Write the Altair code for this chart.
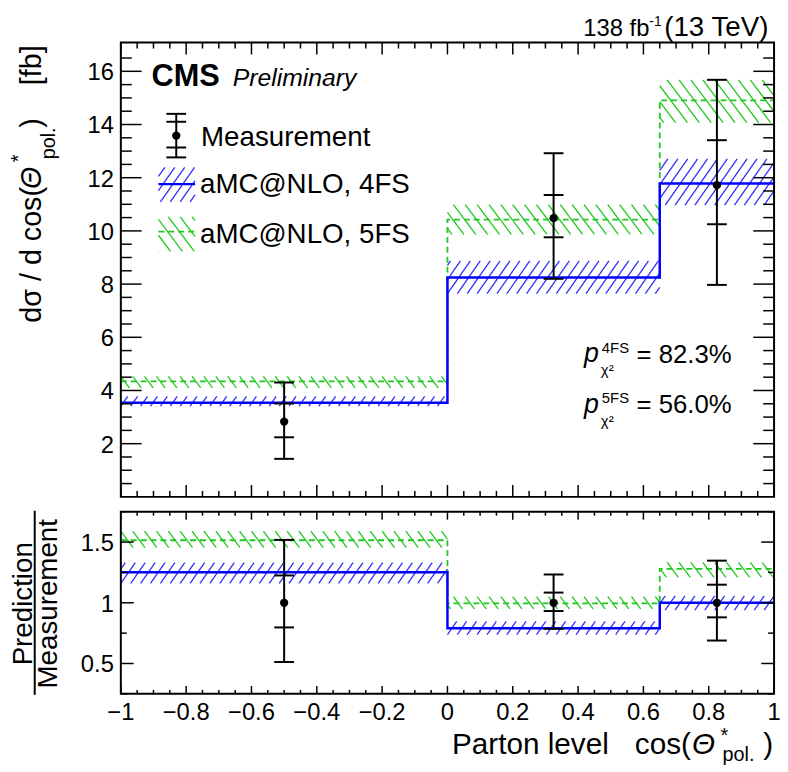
import altair as alt
import pandas as pd
import numpy as np

# ---------------- data ----------------
bin_edges = [-1.0, 0.0, 0.65, 1.0]
bin_centers = [-0.5, 0.325, 0.825]

meas = [2.83, 10.48, 11.72]
meas_tot_lo = [1.43, 8.20, 7.97]
meas_tot_hi = [4.30, 12.92, 15.68]
meas_stat_lo = [2.24, 9.76, 10.25]
meas_stat_hi = [3.51, 11.35, 13.41]

fs4 = [3.54, 8.25, 11.78]
fs4_lo = [3.41, 7.64, 10.97]
fs4_hi = [3.78, 8.87, 12.71]
fs5 = [4.34, 10.42, 14.91]
fs5_lo = [4.10, 9.87, 14.07]
fs5_hi = [4.53, 10.99, 15.68]

ratio_meas = [1.0, 1.0, 1.0]
ratio_tot_lo = [0.512, 0.786, 0.689]
ratio_tot_hi = [1.518, 1.233, 1.347]
ratio_stat_lo = [0.797, 0.932, 0.880]
ratio_stat_hi = [1.225, 1.084, 1.149]
ratio4 = [1.252, 0.790, 1.000]
ratio4_lo = [1.160, 0.737, 0.940]
ratio4_hi = [1.330, 0.846, 1.057]
ratio5 = [1.515, 0.995, 1.279]
ratio5_lo = [1.455, 0.950, 1.210]
ratio5_hi = [1.590, 1.050, 1.333]

x_major_ticks = [-1.0, -0.8, -0.6, -0.4, -0.2, 0.0, 0.2, 0.4, 0.6, 0.8, 1.0]
x_tick_labels = ["\u22121", "\u22120.8", "\u22120.6", "\u22120.4", "\u22120.2", "0",
                 "0.2", "0.4", "0.6", "0.8", "1"]
y_top_major = [2, 4, 6, 8, 10, 12, 14, 16]
y_top_labels = ["2", "4", "6", "8", "10", "12", "14", "16"]
y_bot_major = [0.5, 1.0, 1.5]
y_bot_labels = ["0.5", "1", "1.5"]

# ---------------- layout ----------------
W, H = 660, 658
TOP_H = 459
BOT_Y0, BOT_Y1 = 474, 658
TOP_DOM = [0.0, 17.08]
BOT_DOM = [0.25, 1.75]
FONT = "Liberation Sans"
BLUE = "#0000ff"
HBLUE = "#2f2fff"
GREEN = "#1ec81e"

xs = alt.Scale(domain=[-1, 1], range=[0, W], nice=False, zero=False)
ysT = alt.Scale(domain=TOP_DOM, range=[TOP_H, 0], nice=False, zero=False)
ysB = alt.Scale(domain=BOT_DOM, range=[BOT_Y1, BOT_Y0], nice=False, zero=False)


def px_x(v):
    return (v + 1) / 2 * W


def inv_x(p):
    return p / W * 2 - 1


def px_y(v, panel):
    if panel == "top":
        return TOP_H - (v - TOP_DOM[0]) / (TOP_DOM[1] - TOP_DOM[0]) * TOP_H
    return BOT_Y1 - (v - BOT_DOM[0]) / (BOT_DOM[1] - BOT_DOM[0]) * (BOT_Y1 - BOT_Y0)


def inv_y(p, panel):
    if panel == "top":
        return TOP_DOM[0] + (TOP_H - p) / TOP_H * (TOP_DOM[1] - TOP_DOM[0])
    return BOT_DOM[0] + (BOT_Y1 - p) / (BOT_Y1 - BOT_Y0) * (BOT_DOM[1] - BOT_DOM[0])


def hatch_px(X0, X1, Ytop, Ybot, spacing, k, direction):
    h = Ybot - Ytop
    segs = []
    n0 = int(np.floor((X0 - k * h) / spacing)) - 1
    n1 = int(np.ceil(X1 / spacing)) + 1
    for n in range(n0, n1 + 1):
        c = n * spacing
        t0 = max(0.0, (X0 - c) / (k * h))
        t1 = min(1.0, (X1 - c) / (k * h))
        if t1 - t0 <= 1e-6:
            continue
        xa, xb = c + k * h * t0, c + k * h * t1
        if direction == "/":
            ya, yb = Ybot - h * t0, Ybot - h * t1
        else:
            ya, yb = Ytop + h * t0, Ytop + h * t1
        segs.append((xa, ya, xb, yb))
    return segs


def band_hatch(los, his, panel, spacing, k, direction):
    rows = []
    for i in range(3):
        X0, X1 = px_x(bin_edges[i]), px_x(bin_edges[i + 1])
        Ytop, Ybot = px_y(his[i], panel), px_y(los[i], panel)
        for xa, ya, xb, yb in hatch_px(X0, X1, Ytop, Ybot, spacing, k, direction):
            rows.append({"x": inv_x(xa), "y": inv_y(ya, panel),
                         "x2": inv_x(xb), "y2": inv_y(yb, panel)})
    return pd.DataFrame(rows)


def hatch_layer(df, ys, color):
    return alt.Chart(df).mark_rule(color=color, strokeWidth=1.3).encode(
        x=alt.X("x:Q", scale=xs, axis=None), x2="x2:Q",
        y=alt.Y("y:Q", scale=ys, axis=None), y2="y2:Q")


def step_layer(vals, ys, color, width, dash=None):
    df = pd.DataFrame({"x": bin_edges, "v": list(vals) + [vals[-1]]})
    kw = dict(color=color, strokeWidth=width, interpolate="step-after")
    if dash:
        kw["strokeDash"] = dash
    return alt.Chart(df).mark_line(**kw).encode(
        x=alt.X("x:Q", scale=xs, axis=None),
        y=alt.Y("v:Q", scale=ys, axis=None))


def meas_layers(c, tlo, thi, slo, shi, ys):
    df = pd.DataFrame({"x": bin_centers, "c": c, "tlo": tlo, "thi": thi,
                       "slo": slo, "shi": shi})
    X = alt.X("x:Q", scale=xs, axis=None)
    out = [alt.Chart(df).mark_rule(color="black", strokeWidth=2).encode(
        x=X, y=alt.Y("tlo:Q", scale=ys, axis=None), y2="thi:Q")]
    for f in ["tlo", "thi", "slo", "shi"]:
        out.append(alt.Chart(df).mark_tick(orient="horizontal", size=20, thickness=2,
                                           color="black", opacity=1).encode(
            x=X, y=alt.Y(f + ":Q", scale=ys, axis=None)))
    out.append(alt.Chart(df).mark_circle(size=70, color="black", opacity=1).encode(
        x=X, y=alt.Y("c:Q", scale=ys, axis=None)))
    return out


one = pd.DataFrame({"a": [0]})


def text(t, x, y, size, align="left", baseline="alphabetic", style="normal",
         weight="normal", angle=0):
    return alt.Chart(one).mark_text(text=t, align=align, baseline=baseline,
                                    font=FONT, fontSize=size, fontStyle=style,
                                    fontWeight=weight, angle=angle,
                                    color="black").encode(
        x=alt.value(x), y=alt.value(y))


def px_rule(x, x2, y, y2, color="black", width=2, dash=None):
    kw = dict(color=color, strokeWidth=width)
    if dash:
        kw["strokeDash"] = dash
    return alt.Chart(one).mark_rule(**kw).encode(
        x=alt.value(x), x2=alt.value(x2), y=alt.value(y), y2=alt.value(y2))


layers = []

# ---- hatched bands ----
layers.append(hatch_layer(band_hatch(fs5_lo, fs5_hi, "top", 12, 0.75, "\\"), ysT, GREEN))
layers.append(hatch_layer(band_hatch(fs4_lo, fs4_hi, "top", 10, 0.7, "/"), ysT, HBLUE))
layers.append(hatch_layer(band_hatch(ratio5_lo, ratio5_hi, "bot", 12, 0.75, "\\"), ysB, GREEN))
layers.append(hatch_layer(band_hatch(ratio4_lo, ratio4_hi, "bot", 10, 0.7, "/"), ysB, HBLUE))

# ---- step lines ----
layers.append(step_layer(fs5, ysT, GREEN, 1.8, [6, 4]))
layers.append(step_layer(fs4, ysT, BLUE, 2.5))
layers.append(step_layer(ratio5, ysB, GREEN, 1.8, [6, 4]))
layers.append(step_layer(ratio4, ysB, BLUE, 2.5))

# ---- measurement ----
layers += meas_layers(meas, meas_tot_lo, meas_tot_hi, meas_stat_lo, meas_stat_hi, ysT)
layers += meas_layers(ratio_meas, ratio_tot_lo, ratio_tot_hi, ratio_stat_lo, ratio_stat_hi, ysB)

# ---- inward ticks ----
x_minor = [round(v, 2) for v in np.arange(-1, 1.0001, 0.05) if abs(v * 5 - round(v * 5)) > 1e-6]
yT_minor = [v for v in np.arange(0.5, 17.0, 0.5) if abs(v / 2 - round(v / 2)) > 1e-6]
yB_minor = [0.25, 0.75, 1.25, 1.75]


def xtick_layer(vals, y0, y1):
    return alt.Chart(pd.DataFrame({"v": vals})).mark_rule(color="black", strokeWidth=1.5).encode(
        x=alt.X("v:Q", scale=xs, axis=None), y=alt.value(y0), y2=alt.value(y1))


def ytick_layer(vals, ys, x0, x1):
    return alt.Chart(pd.DataFrame({"v": vals})).mark_rule(color="black", strokeWidth=1.5).encode(
        y=alt.Y("v:Q", scale=ys, axis=None), x=alt.value(x0), x2=alt.value(x1))


layers += [
    xtick_layer(x_major_ticks, TOP_H, TOP_H - 12), xtick_layer(x_minor, TOP_H, TOP_H - 6),
    xtick_layer(x_major_ticks, 0, 12), xtick_layer(x_minor, 0, 6),
    xtick_layer(x_major_ticks, BOT_Y1, BOT_Y1 - 8), xtick_layer(x_minor, BOT_Y1, BOT_Y1 - 4),
    xtick_layer(x_major_ticks, BOT_Y0, BOT_Y0 + 8), xtick_layer(x_minor, BOT_Y0, BOT_Y0 + 4),
    ytick_layer(y_top_major, ysT, 0, 21), ytick_layer(yT_minor, ysT, 0, 11),
    ytick_layer(y_top_major, ysT, W, W - 21), ytick_layer(yT_minor, ysT, W, W - 11),
    ytick_layer(y_bot_major, ysB, 0, 13), ytick_layer(yB_minor, ysB, 0, 6),
    ytick_layer(y_bot_major, ysB, W, W - 13), ytick_layer(yB_minor, ysB, W, W - 6),
]

# ---- frames ----
for (ya, yb) in [(0, TOP_H), (BOT_Y0, BOT_Y1)]:
    layers.append(alt.Chart(one).mark_rect(fillOpacity=0, stroke="black", strokeWidth=2).encode(
        x=alt.value(0), x2=alt.value(W), y=alt.value(ya), y2=alt.value(yb)))

# ---- tick labels ----
layers.append(alt.Chart(pd.DataFrame({"v": x_major_ticks, "t": x_tick_labels})).mark_text(
    font=FONT, fontSize=24, align="center", baseline="alphabetic", color="black").encode(
    x=alt.X("v:Q", scale=xs, axis=None), y=alt.value(684), text="t:N"))
layers.append(alt.Chart(pd.DataFrame({"v": y_top_major, "t": y_top_labels})).mark_text(
    font=FONT, fontSize=24, align="right", baseline="alphabetic", dy=9, color="black").encode(
    y=alt.Y("v:Q", scale=ysT, axis=None), x=alt.value(-7), text="t:N"))
layers.append(alt.Chart(pd.DataFrame({"v": y_bot_major, "t": y_bot_labels})).mark_text(
    font=FONT, fontSize=24, align="right", baseline="alphabetic", dy=9, color="black").encode(
    y=alt.Y("v:Q", scale=ysB, axis=None), x=alt.value(-7), text="t:N"))

# ---- axis titles ----
# top y title (rotated)
layers += [
    text("d\u03c3 / d cos(", -81, 283, 29, angle=270),
    text("\u0398", -81, 148, 29, angle=270, style="italic"),
    text("*", -97, 121, 20, angle=270),
    text("pol.", -67, 118, 20, angle=270),
    text(")", -81, 86, 29, angle=270),
    text("[fb]", -81, 43, 29, angle=270),
]
# bottom y title (fraction)
layers += [
    text("Prediction", -90, 567, 28, align="center", angle=270),
    px_rule(-87, -87, BOT_Y0 - 1, BOT_Y1 + 1, width=2),
    text("Measurement", -64, 567, 28, align="center", angle=270),
]
# x title
layers += [
    text("Parton level", 493, 719, 30, align="right"),
    text("cos(", 576, 719, 30, align="right"),
    text("\u0398", 577, 719, 30, style="italic"),
    text("*", 606, 707, 20),
    text("pol.", 608, 726, 20),
    text(")", 649, 719, 30),
]

# ---- header texts ----
layers += [
    text("138 fb", 534, -7, 24, align="right"),
    text("-1", 534, -17, 14),
    text("(13 TeV)", 549, -7, 28),
    text("CMS", 31, 44, 31, weight="bold"),
    text("Preliminary", 113, 44, 25, style="italic"),
]

# ---- legend ----
def legend_hatch(X0, X1, Ytop, Ybot, spacing, k, direction, color):
    segs = hatch_px(X0, X1, Ytop, Ybot, spacing, k, direction)
    df = pd.DataFrame(segs, columns=["x", "y", "x2", "y2"])
    return alt.Chart(df).mark_rule(color=color, strokeWidth=1.3).encode(
        x=alt.X("x:Q", scale=None), x2="x2:Q", y=alt.Y("y:Q", scale=None), y2="y2:Q")


layers += [
    px_rule(56, 56, 72, 116, width=2),
    px_rule(46, 66, 72, 72, width=2),
    px_rule(46, 66, 80, 80, width=2),
    px_rule(46, 66, 106, 106, width=2),
    px_rule(46, 66, 116, 116, width=2),
    alt.Chart(one).mark_circle(size=70, color="black", opacity=1).encode(
        x=alt.value(56), y=alt.value(94)),
    text("Measurement", 81, 104, 28),
    legend_hatch(38, 75, 126, 161, 10, 0.7, "/", HBLUE),
    px_rule(38, 75, 143, 143, color=BLUE, width=2.5),
    text("aMC@NLO, 4FS", 80, 152, 28),
    legend_hatch(38, 75, 176, 211, 12, 0.75, "\\", GREEN),
    px_rule(38, 75, 191, 191, color=GREEN, width=1.8, dash=[6, 4]),
    text("aMC@NLO, 5FS", 80, 202, 28),
]

# ---- p-values ----
layers += [
    text("p", 468, 323, 27, style="italic"),
    text("4FS", 486, 314, 15),
    text("\u03c7\u00b2", 485, 336, 15),
    text("= 82.3%", 521, 324, 26),
    text("p", 468, 374, 27, style="italic"),
    text("5FS", 486, 364, 15),
    text("\u03c7\u00b2", 485, 387, 15),
    text("= 56.0%", 521, 374, 26),
]

chart = alt.layer(*layers).resolve_scale(x="independent", y="independent").properties(
    width=W, height=H,
    padding={"left": 114, "top": 31, "right": 6, "bottom": 72},
    autosize=alt.AutoSizeParams(type="none"),
).configure_view(strokeWidth=0)

chart.save("out.html", embed_options={"renderer": "svg", "actions": False})
